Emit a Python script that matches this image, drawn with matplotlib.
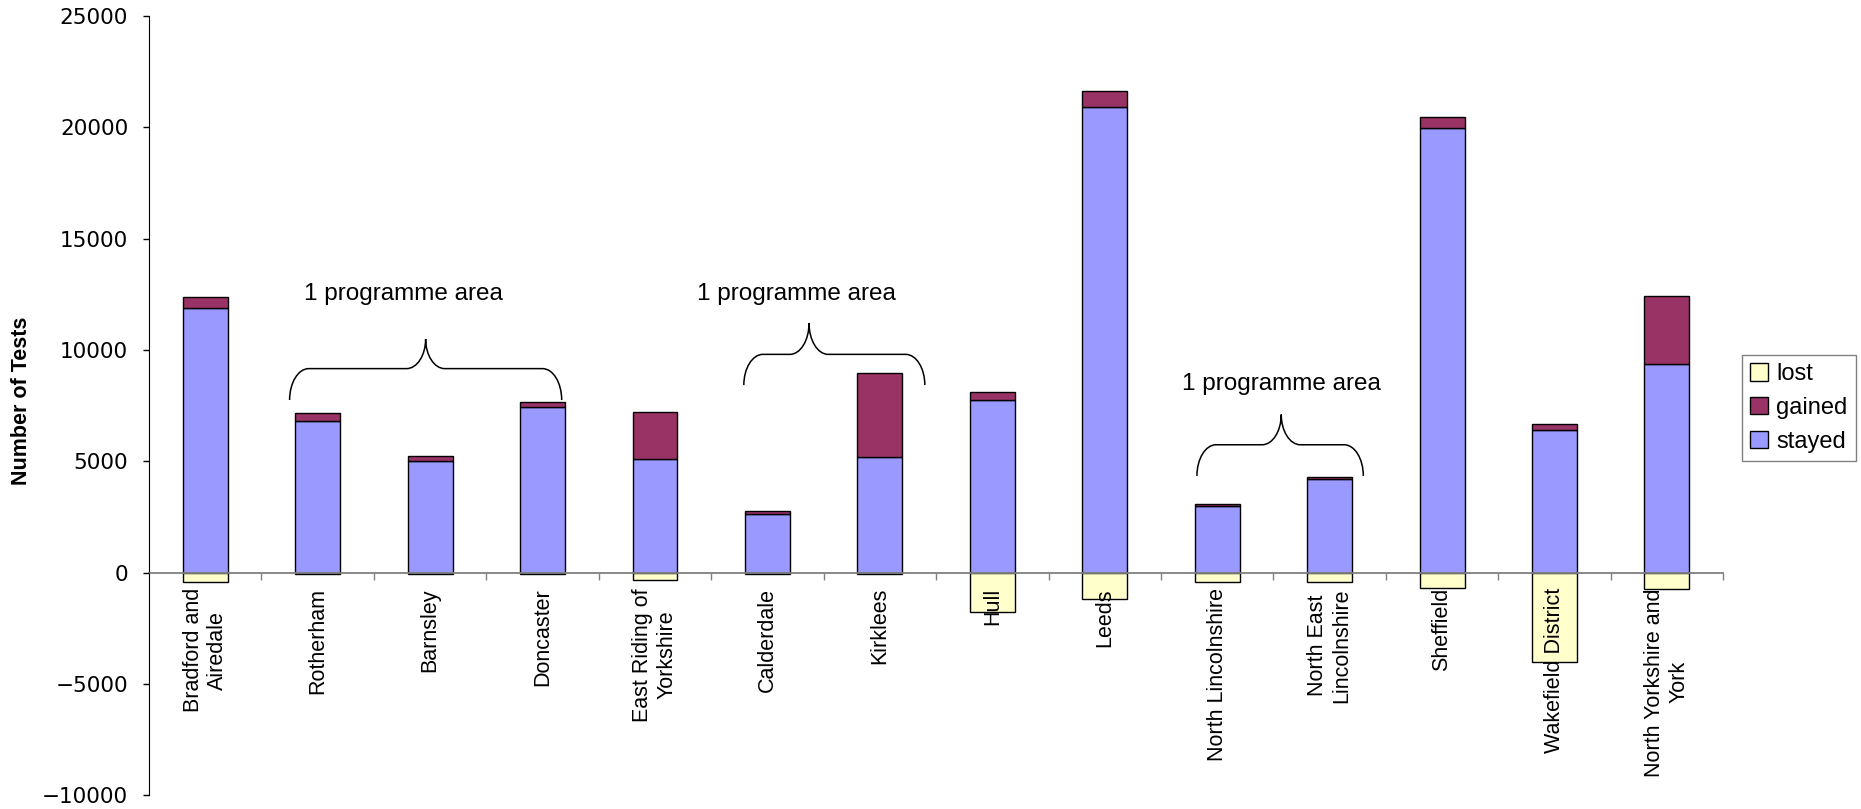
import numpy as np
import matplotlib
matplotlib.use("Agg")
import matplotlib.pyplot as plt
from matplotlib.path import Path
from matplotlib.patches import PathPatch

plt.rcParams['font.family'] = ['Liberation Sans', 'DejaVu Sans']

areas = ["Bradford and\nAiredale", "Rotherham", "Barnsley", "Doncaster",
         "East Riding of\nYorkshire", "Calderdale", "Kirklees", "Hull", "Leeds",
         "North Lincolnshire", "North East\nLincolnshire", "Sheffield",
         "Wakefield District", "North Yorkshire and\nYork"]
stayed = [11900, 6830, 5030, 7460, 5090, 2620, 5210, 7770, 20930, 2990, 4190, 19960, 6410, 9360]
gained = [470, 340, 195, 225, 2125, 150, 3760, 330, 700, 105, 90, 490, 270, 3080]
lost = [-410, -50, -50, -50, -310, -50, -50, -1760, -1180, -430, -430, -680, -4020, -750]

# brace annotations: (x start, x end, tip x, y bottom, y flat, y tip, text x, text y)
braces = [
    (0.75, 3.17, 1.96, 7760, 9170, 10500, 1.76, 12270),
    (4.79, 6.40, 5.37, 8430, 9810, 11210, 5.26, 12270),
    (8.82, 10.30, 9.57, 4350, 5750, 7110, 9.57, 8220),
]
brace_text = "1 programme area"


def draw_brace(ax, x0, x1, xm, yb, yh, yt, r=0.17, k=0.55):
    verts = [
        (x0, yb),
        (x0, yb + k * (yh - yb)), (x0 + r - k * r, yh), (x0 + r, yh),
        (xm - r, yh),
        (xm - r + k * r, yh), (xm, yt - k * (yt - yh)), (xm, yt),
        (xm, yt - k * (yt - yh)), (xm + r - k * r, yh), (xm + r, yh),
        (x1 - r, yh),
        (x1 - r + k * r, yh), (x1, yb + k * (yh - yb)), (x1, yb),
    ]
    codes = [Path.MOVETO,
             Path.CURVE4, Path.CURVE4, Path.CURVE4,
             Path.LINETO,
             Path.CURVE4, Path.CURVE4, Path.CURVE4,
             Path.CURVE4, Path.CURVE4, Path.CURVE4,
             Path.LINETO,
             Path.CURVE4, Path.CURVE4, Path.CURVE4]
    ax.add_patch(PathPatch(Path(verts, codes), fill=False, lw=1.1,
                           edgecolor='black', zorder=5))


fig = plt.figure(figsize=(18.61, 8.09), dpi=100)
ax = fig.add_axes([0.0801, 0.0168, 0.9259 - 0.0801, 0.980 - 0.0168])
ax.set_axisbelow(False)

x = np.arange(len(areas))
w = 0.40
b_stayed = ax.bar(x, stayed, w, color='#9999FF', edgecolor='black', lw=1.0, zorder=1)
b_gained = ax.bar(x, gained, w, bottom=stayed, color='#993366', edgecolor='black', lw=1.0, zorder=1)
b_lost = ax.bar(x, lost, w, color='#FFFFCC', edgecolor='black', lw=1.0, zorder=1)

ax.set_xlim(-0.5, len(areas) - 0.5)
ax.set_ylim(-10000, 25000)
ax.set_yticks(np.arange(-10000, 25001, 5000))
ax.tick_params(axis='y', direction='out', length=4, width=1, labelsize=15.5, pad=11)
for lab in ax.get_yticklabels():
    lab.set_family('DejaVu Sans')

for s in ['top', 'right']:
    ax.spines[s].set_visible(False)
ax.spines['bottom'].set_position(('data', 0))
ax.spines['bottom'].set_color('#808080')
ax.spines['bottom'].set_linewidth(1.3)
ax.spines['left'].set_color('black')

ax.set_xticks(np.arange(0.5, len(areas), 1.0))
ax.set_xticklabels([])
ax.tick_params(axis='x', which='major', direction='out', length=5, width=1, color='#808080')
ax.set_xticks(x, minor=True)
ax.set_xticklabels(areas, minor=True, rotation=90, ha='center', va='top',
                   multialignment='center', fontsize=15.5)
ax.tick_params(axis='x', which='minor', length=0, pad=11)

ax.set_ylabel("Number of Tests", fontsize=15.5, fontweight='bold')
ax.yaxis.set_label_coords(-0.0743, 0.506)

for bx0, bx1, bxm, yb, yh, yt, tx, ty in braces:
    draw_brace(ax, bx0, bx1, bxm, yb, yh, yt)
    ax.text(tx, ty, brace_text, ha='center', va='baseline', fontsize=17.5)

leg = fig.legend([b_lost, b_gained, b_stayed], ["lost", "gained", "stayed"],
                 loc='upper left', bbox_to_anchor=(1742 / 1861, 1 - 355 / 809),
                 fontsize=17, fancybox=False, framealpha=1, edgecolor='#808080',
                 handlelength=0.75, handleheight=0.75, handletextpad=0.35,
                 labelspacing=0.5, borderpad=0.35, borderaxespad=0)
leg.get_frame().set_linewidth(1.0)

fig.savefig("out.png", dpi=100)
